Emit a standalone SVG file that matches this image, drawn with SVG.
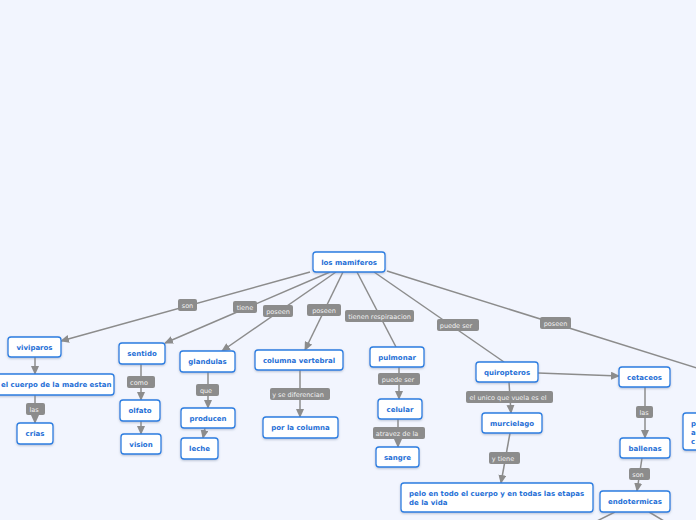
<svg xmlns="http://www.w3.org/2000/svg" width="696" height="520" viewBox="0 0 696 520">
<defs>
<style>
.n rect{fill:#fff;stroke:#2a7de1;stroke-width:1.3}
.n text{font-family:"DejaVu Sans",Verdana,sans-serif;font-weight:bold;font-size:7px;fill:#1f6fd6;text-anchor:middle}
.l rect{fill:#8c8c8c}
.l text{font-family:"DejaVu Sans",Verdana,sans-serif;font-size:6.5px;fill:#f2f2f2;text-anchor:middle}
.c line{stroke:#8c8c8c;stroke-width:1.5;fill:none}
.a{marker-end:url(#ar)}
</style>
<marker id="ar" markerWidth="9" markerHeight="8" refX="8" refY="4" orient="auto" markerUnits="userSpaceOnUse">
<path d="M0,0 L9,4 L0,8 Z" fill="#8c8c8c"/>
</marker>
<filter id="sh" x="-10%" y="-20%" width="120%" height="150%">
<feDropShadow dx="0" dy="1" stdDeviation="0.8" flood-color="#7a8ca8" flood-opacity="0.5"/>
</filter>
</defs>
<rect width="696" height="520" fill="#f2f5fe"/>
<g id="connectors" class="c">
<line class="a" x1="310" y1="272" x2="61" y2="341"/>
<line class="a" x1="330" y1="272" x2="165" y2="343"/>
<line class="a" x1="336" y1="272" x2="222" y2="351"/>
<line class="a" x1="343" y1="272" x2="305" y2="350"/>
<line x1="357" y1="272" x2="396" y2="347"/>
<line x1="374" y1="272" x2="504" y2="362"/>
<line x1="387" y1="271" x2="700" y2="369"/>
<line class="a" x1="35" y1="357" x2="35" y2="374"/>
<line class="a" x1="35" y1="395" x2="35" y2="423"/>
<line class="a" x1="141" y1="364" x2="141" y2="400"/>
<line class="a" x1="141" y1="421" x2="141" y2="434"/>
<line class="a" x1="208" y1="372" x2="208" y2="408"/>
<line class="a" x1="205" y1="428" x2="203" y2="438"/>
<line class="a" x1="300" y1="370" x2="300" y2="417"/>
<line class="a" x1="399" y1="367" x2="399" y2="399"/>
<line class="a" x1="398" y1="419" x2="398" y2="447"/>
<line class="a" x1="538" y1="373" x2="619" y2="376"/>
<line class="a" x1="509" y1="382" x2="511" y2="413"/>
<line class="a" x1="510" y1="433" x2="501" y2="483"/>
<line class="a" x1="645" y1="387" x2="645" y2="438"/>
<line class="a" x1="642" y1="458" x2="637" y2="491"/>
<line x1="615" y1="512" x2="597" y2="521"/>
<line x1="649" y1="512" x2="664" y2="521"/>
</g>
<g id="labels">
<g class="l"><rect x="178" y="299" width="19" height="12" rx="2"/><text x="187.5" y="307.5">son</text></g>
<g class="l"><rect x="233" y="301" width="24" height="12" rx="2"/><text x="245" y="309.5">tiene</text></g>
<g class="l"><rect x="263" y="305" width="30" height="12" rx="2"/><text x="278" y="313.5">poseen</text></g>
<g class="l"><rect x="307" y="304" width="34" height="12" rx="2"/><text x="324" y="312.5">poseen</text></g>
<g class="l"><rect x="345" y="310" width="69" height="12" rx="2"/><text x="379.5" y="318.5">tienen respiraacion</text></g>
<g class="l"><rect x="437" y="319" width="42" height="12" rx="2"/><text x="456" y="327.5">puede ser</text></g>
<g class="l"><rect x="540" y="317" width="31" height="12" rx="2"/><text x="555.5" y="325.5">poseen</text></g>
<g class="l"><rect x="26" y="403" width="19" height="12" rx="2"/><text x="34" y="411.5">las</text></g>
<g class="l"><rect x="127" y="376" width="28" height="12" rx="2"/><text x="139" y="384.5">como</text></g>
<g class="l"><rect x="196" y="384" width="23" height="12" rx="2"/><text x="206" y="392.5">que</text></g>
<g class="l"><rect x="270" y="388" width="60" height="12" rx="2"/><text x="298" y="396.5">y se diferencian</text></g>
<g class="l"><rect x="378" y="373" width="42" height="12" rx="2"/><text x="398" y="381.5">puede ser</text></g>
<g class="l"><rect x="373" y="427" width="52" height="12" rx="2"/><text x="397" y="435.5">atravez de la</text></g>
<g class="l"><rect x="466" y="391" width="87" height="12" rx="2"/><text x="508" y="399.5">el unico que vuela es el</text></g>
<g class="l"><rect x="489" y="452" width="31" height="12" rx="2"/><text x="503" y="460.5">y tiene</text></g>
<g class="l"><rect x="636" y="406" width="17" height="12" rx="2"/><text x="644" y="414.5">las</text></g>
<g class="l"><rect x="629" y="468" width="21" height="12" rx="2"/><text x="638" y="476.5">son</text></g>
</g>
<g id="los-mamiferos" class="n"><rect x="313" y="252" width="72" height="20" rx="3" filter="url(#sh)"/><text x="349" y="264.5">los mamiferos</text></g>
<g id="viviparos" class="n"><rect x="8" y="337" width="53" height="20" rx="3" filter="url(#sh)"/><text x="34.5" y="349.5">viviparos</text></g>
<g id="cuerpo-madre" class="n"><rect x="-40" y="374" width="154" height="21" rx="3" filter="url(#sh)"/><text x="1" y="387" style="text-anchor:start">el cuerpo de la madre estan</text></g>
<g id="crias" class="n"><rect x="17" y="423" width="36" height="21" rx="3" filter="url(#sh)"/><text x="35" y="436">crias</text></g>
<g id="sentido" class="n"><rect x="119" y="343" width="46" height="21" rx="3" filter="url(#sh)"/><text x="142" y="356">sentido</text></g>
<g id="olfato" class="n"><rect x="120" y="400" width="40" height="21" rx="3" filter="url(#sh)"/><text x="140" y="413">olfato</text></g>
<g id="vision" class="n"><rect x="121" y="434" width="40" height="20" rx="3" filter="url(#sh)"/><text x="141" y="446.5">vision</text></g>
<g id="glandulas" class="n"><rect x="180" y="351" width="55" height="21" rx="3" filter="url(#sh)"/><text x="207.5" y="364">glandulas</text></g>
<g id="producen" class="n"><rect x="181" y="408" width="54" height="20" rx="3" filter="url(#sh)"/><text x="208" y="420.5">producen</text></g>
<g id="leche" class="n"><rect x="181" y="438" width="37" height="21" rx="3" filter="url(#sh)"/><text x="199.5" y="451">leche</text></g>
<g id="columna-vertebral" class="n"><rect x="255" y="350" width="88" height="20" rx="3" filter="url(#sh)"/><text x="299" y="362.5">columna vertebral</text></g>
<g id="por-la-columna" class="n"><rect x="263" y="417" width="75" height="21" rx="3" filter="url(#sh)"/><text x="300.5" y="430">por la columna</text></g>
<g id="pulmonar" class="n"><rect x="370" y="347" width="54" height="20" rx="3" filter="url(#sh)"/><text x="397" y="359.5">pulmonar</text></g>
<g id="celular" class="n"><rect x="378" y="399" width="44" height="20" rx="3" filter="url(#sh)"/><text x="400" y="411.5">celular</text></g>
<g id="sangre" class="n"><rect x="376" y="447" width="43" height="20" rx="3" filter="url(#sh)"/><text x="397.5" y="459.5">sangre</text></g>
<g id="quiropteros" class="n"><rect x="476" y="362" width="62" height="20" rx="3" filter="url(#sh)"/><text x="507" y="374.5">quiropteros</text></g>
<g id="murcielago" class="n"><rect x="482" y="413" width="60" height="20" rx="3" filter="url(#sh)"/><text x="512" y="425.5">murcielago</text></g>
<g id="pelo" class="n"><rect x="401" y="483" width="192" height="29" rx="3" filter="url(#sh)"/><text x="409" y="496" style="text-anchor:start">pelo en todo el cuerpo y en todas las etapas</text><text x="409" y="505" style="text-anchor:start">de la vida</text></g>
<g id="cetaceos" class="n"><rect x="619" y="367" width="51" height="20" rx="3" filter="url(#sh)"/><text x="644.5" y="379.5">cetaceos</text></g>
<g id="ballenas" class="n"><rect x="620" y="438" width="50" height="20" rx="3" filter="url(#sh)"/><text x="645" y="450.5">ballenas</text></g>
<g id="endotermicas" class="n"><rect x="600" y="491" width="70" height="21" rx="3" filter="url(#sh)"/><text x="635" y="504">endotermicas</text></g>
<g id="partial-right" class="n"><rect x="683" y="413" width="40" height="37" rx="3" filter="url(#sh)"/><text x="691" y="425.5" style="text-anchor:start">p</text><text x="691" y="434.5" style="text-anchor:start">a</text><text x="691" y="443.5" style="text-anchor:start">c</text></g>
</svg>
